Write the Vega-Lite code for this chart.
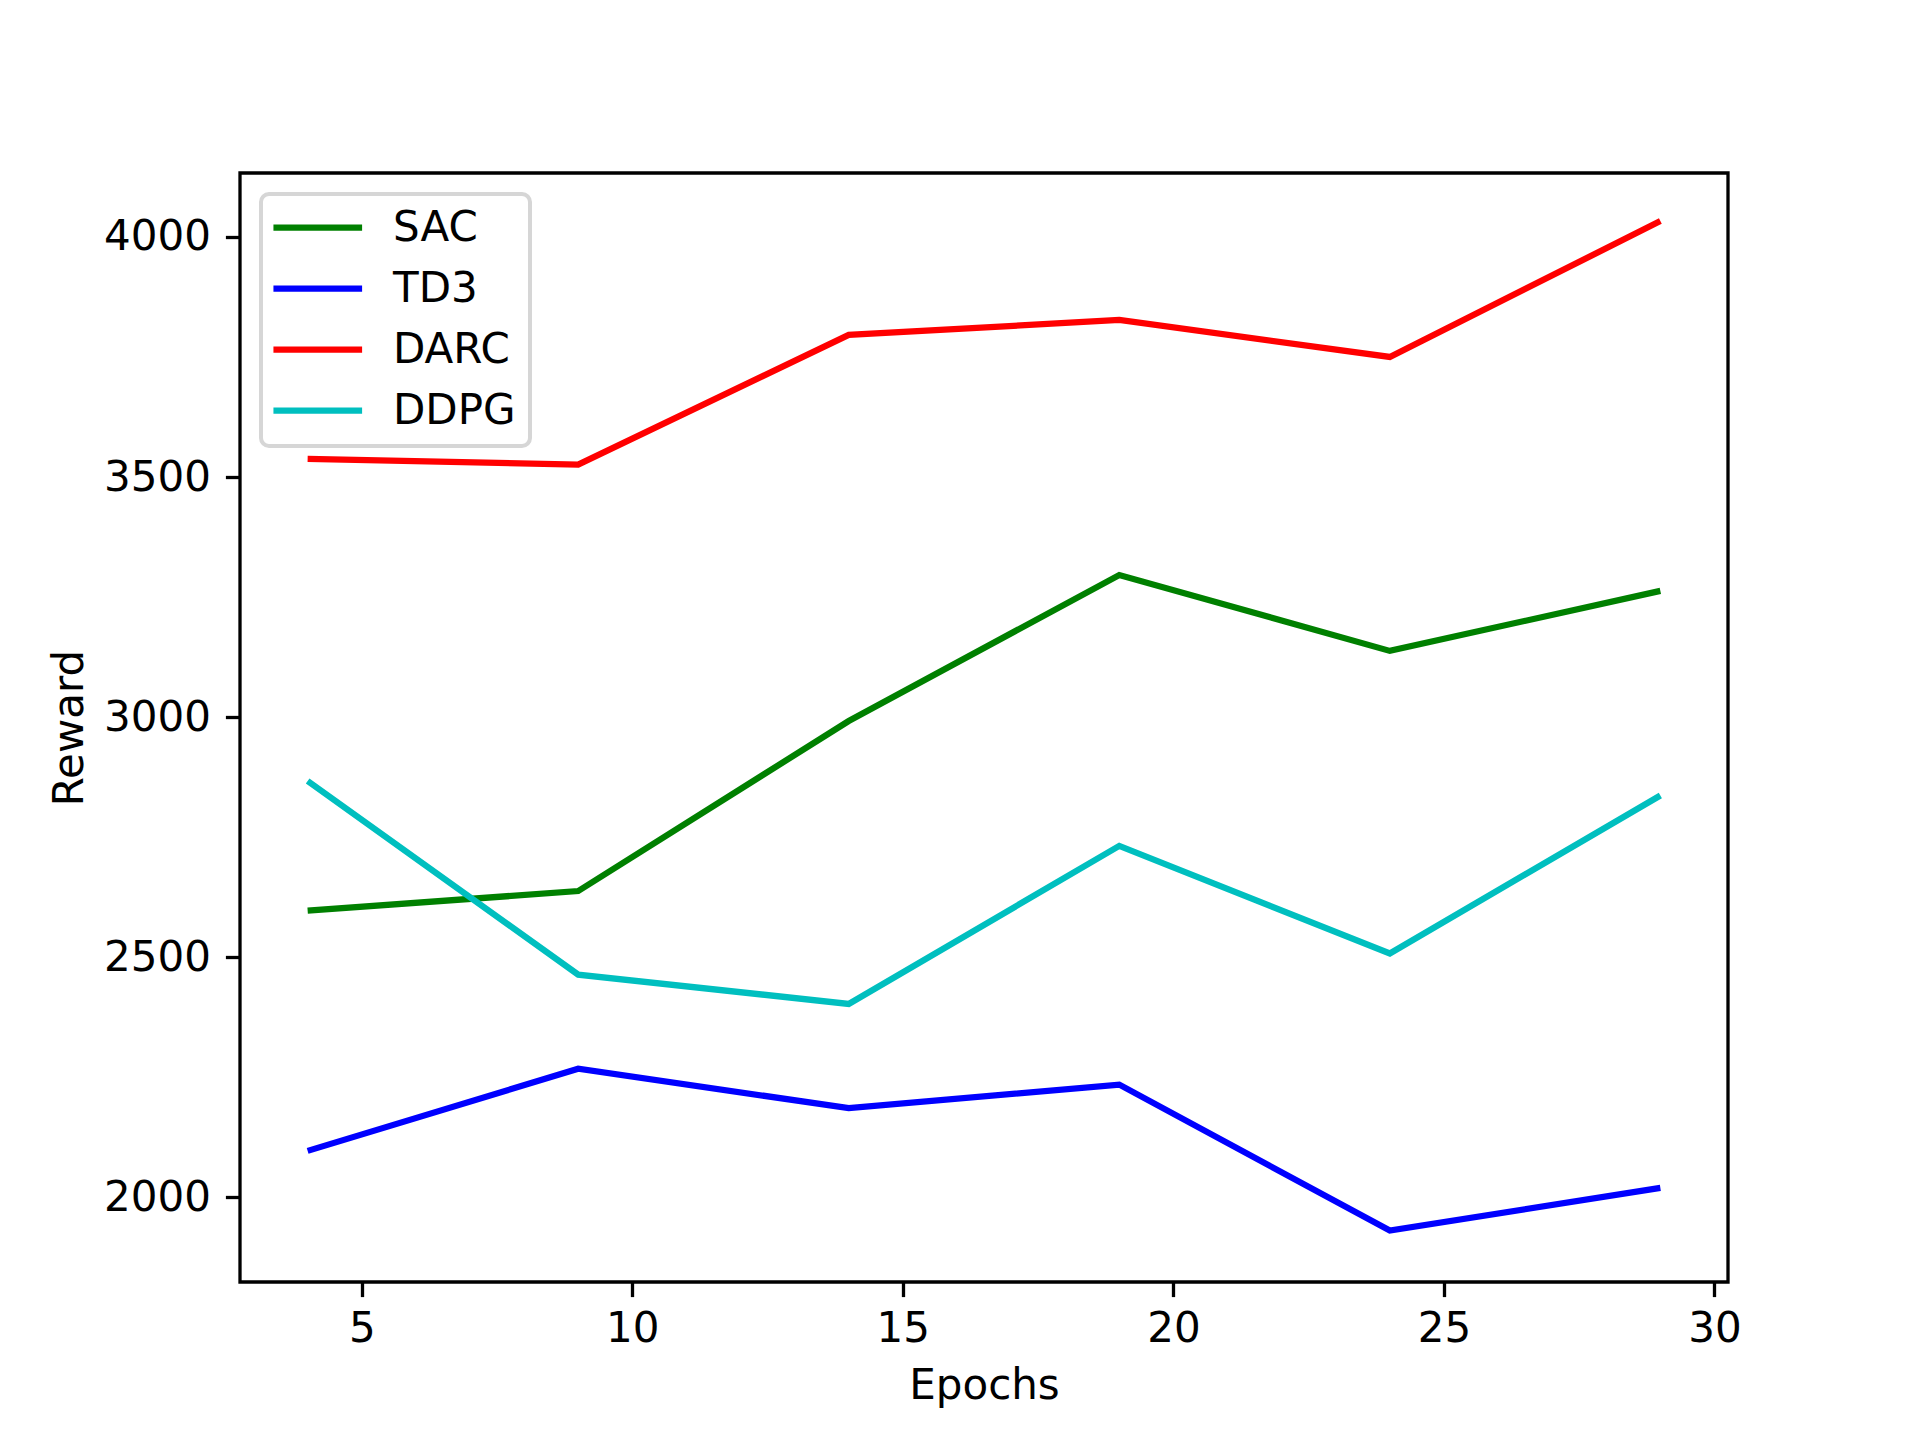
{
  "$schema": "https://vega.github.io/schema/vega-lite/v6.json",
  "autosize": {"type": "none"},
  "width": 1488,
  "height": 1109,
  "padding": {"left": 240, "top": 173, "right": 192, "bottom": 158},
  "background": "white",
  "data": {"values": [
    {"Epochs": 4, "Reward": 2597, "Algo": "SAC"},
    {"Epochs": 9, "Reward": 2638, "Algo": "SAC"},
    {"Epochs": 14, "Reward": 2992, "Algo": "SAC"},
    {"Epochs": 19, "Reward": 3296, "Algo": "SAC"},
    {"Epochs": 24, "Reward": 3138, "Algo": "SAC"},
    {"Epochs": 29, "Reward": 3263, "Algo": "SAC"},
    {"Epochs": 4, "Reward": 2097, "Algo": "TD3"},
    {"Epochs": 9, "Reward": 2268, "Algo": "TD3"},
    {"Epochs": 14, "Reward": 2186, "Algo": "TD3"},
    {"Epochs": 19, "Reward": 2235, "Algo": "TD3"},
    {"Epochs": 24, "Reward": 1931, "Algo": "TD3"},
    {"Epochs": 29, "Reward": 2020, "Algo": "TD3"},
    {"Epochs": 4, "Reward": 3538, "Algo": "DARC"},
    {"Epochs": 9, "Reward": 3526, "Algo": "DARC"},
    {"Epochs": 14, "Reward": 3796, "Algo": "DARC"},
    {"Epochs": 19, "Reward": 3827, "Algo": "DARC"},
    {"Epochs": 24, "Reward": 3750, "Algo": "DARC"},
    {"Epochs": 29, "Reward": 4033, "Algo": "DARC"},
    {"Epochs": 4, "Reward": 2867, "Algo": "DDPG"},
    {"Epochs": 9, "Reward": 2464, "Algo": "DDPG"},
    {"Epochs": 14, "Reward": 2403, "Algo": "DDPG"},
    {"Epochs": 19, "Reward": 2732, "Algo": "DDPG"},
    {"Epochs": 24, "Reward": 2508, "Algo": "DDPG"},
    {"Epochs": 29, "Reward": 2837, "Algo": "DDPG"}
  ]},
  "mark": {"type": "line", "strokeWidth": 6.25, "clip": true},
  "encoding": {
    "x": {
      "field": "Epochs", "type": "quantitative",
      "scale": {"domain": [2.75, 30.25], "nice": false, "zero": false},
      "axis": {"values": [5, 10, 15, 20, 25, 30], "title": "Epochs", "titlePadding": 16}
    },
    "y": {
      "field": "Reward", "type": "quantitative",
      "scale": {"domain": [1824, 4133], "nice": false, "zero": false},
      "axis": {"values": [2000, 2500, 3000, 3500, 4000], "format": "d", "title": "Reward", "titlePadding": 12, "labelPadding": 15}
    },
    "color": {
      "field": "Algo", "type": "nominal",
      "scale": {"domain": ["SAC", "TD3", "DARC", "DDPG"], "range": ["#008000", "#0000ff", "#ff0000", "#00bfbf"]},
      "legend": {
        "title": null,
        "orient": "none",
        "legendX": 21,
        "legendY": 21,
        "symbolType": "M-1.23,-0.27H2.8",
        "symbolSize": 1936,
        "symbolStrokeWidth": 6.25,
        "labelFontSize": 42,
        "labelFont": "DejaVu Sans",
        "labelColor": "black",
        "labelOffset": 67,
        "rowPadding": 18,
        "padding": 14,
        "strokeColor": "#d6d6d6",
        "cornerRadius": 8,
        "fillColor": "white",
        "encode": {
          "legend": {"update": {"strokeWidth": {"value": 4}}},
          "labels": {"update": {"dy": {"value": -6}}}
        }
      }
    }
  },
  "config": {
    "view": {"stroke": "black", "strokeWidth": 3.3},
    "axis": {
      "grid": false,
      "domain": false,
      "tickColor": "black",
      "tickWidth": 3.3,
      "tickSize": 14.6,
      "labelFont": "DejaVu Sans",
      "labelFontSize": 42,
      "labelColor": "black",
      "labelPadding": 12,
      "titleFont": "DejaVu Sans",
      "titleFontSize": 42,
      "titleFontWeight": "normal",
      "titleColor": "black"
    }
  }
}
